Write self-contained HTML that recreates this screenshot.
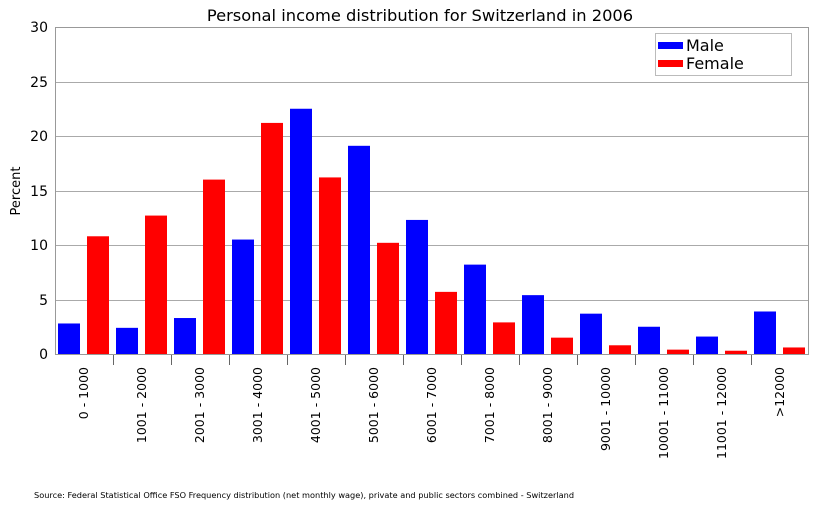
<!DOCTYPE html>
<html><head><style>body{margin:0;background:#fff}</style></head><body>
<svg width="819" height="512" xmlns="http://www.w3.org/2000/svg" font-family="DejaVu Sans, sans-serif">
<rect width="819" height="512" fill="#fff"/>
<text x="420" y="21" font-size="16.3" text-anchor="middle">Personal income distribution for Switzerland in 2006</text>
<g stroke="#aaa" stroke-width="1">
<line x1="55" y1="82.5" x2="809" y2="82.5"/>
<line x1="55" y1="136.5" x2="809" y2="136.5"/>
<line x1="55" y1="191.5" x2="809" y2="191.5"/>
<line x1="55" y1="245.5" x2="809" y2="245.5"/>
<line x1="55" y1="300.5" x2="809" y2="300.5"/>
</g>
<rect x="55.5" y="27.5" width="753" height="327" fill="none" stroke="#999"/>
<g font-size="14" text-anchor="end">
<text x="48" y="32">30</text><text x="48" y="87">25</text><text x="48" y="141">20</text>
<text x="48" y="196">15</text><text x="48" y="250">10</text><text x="48" y="305">5</text><text x="48" y="359">0</text>
</g>
<text transform="translate(20,191) rotate(-90)" font-size="13" text-anchor="middle">Percent</text>
<g id="bars"></g>
<g id="ticks" stroke="#666"></g>
<g id="labels" font-size="12.5" text-anchor="end"></g>
<rect x="655.5" y="33.5" width="136" height="42" fill="#fff" stroke="#bbb"/>
<rect x="658" y="42" width="25" height="7" fill="#00f"/>
<rect x="658" y="60" width="25" height="7" fill="#f00"/>
<text x="686" y="51" font-size="16">Male</text>
<text x="686" y="69" font-size="16">Female</text>
<text x="34" y="498" font-size="8.2">Source: Federal Statistical Office FSO Frequency distribution (net monthly wage), private and public sectors combined - Switzerland</text>
</svg>
<script>
var m=[2.8,2.4,3.3,10.5,22.5,19.1,12.3,8.2,5.4,3.7,2.5,1.6,3.9];
var f=[10.8,12.7,16.0,21.2,16.2,10.2,5.7,2.9,1.5,0.8,0.4,0.3,0.6];
var L=["0 - 1000","1001 - 2000","2001 - 3000","3001 - 4000","4001 - 5000","5001 - 6000","6001 - 7000","7001 - 8000","8001 - 9000","9001 - 10000","10001 - 11000","11001 - 12000",">12000"];
var ns="http://www.w3.org/2000/svg",b=document.getElementById("bars"),t=document.getElementById("ticks"),l=document.getElementById("labels");
function el(p,n,a){var e=document.createElementNS(ns,n);for(var k in a)e.setAttribute(k,a[k]);p.appendChild(e);return e;}
for(var i=0;i<13;i++){var g=55+i*58;
el(b,"rect",{x:g+3,y:354-m[i]*10.9,width:22,height:m[i]*10.9,fill:"#00f"});
el(b,"rect",{x:g+32,y:354-f[i]*10.9,width:22,height:f[i]*10.9,fill:"#f00"});
if(i>0)el(t,"line",{x1:g+0.5,y1:355,x2:g+0.5,y2:365});
var tx=el(l,"text",{transform:"translate("+(g+33)+",367) rotate(-90)"});tx.textContent=L[i];}
</script>
</body></html>
